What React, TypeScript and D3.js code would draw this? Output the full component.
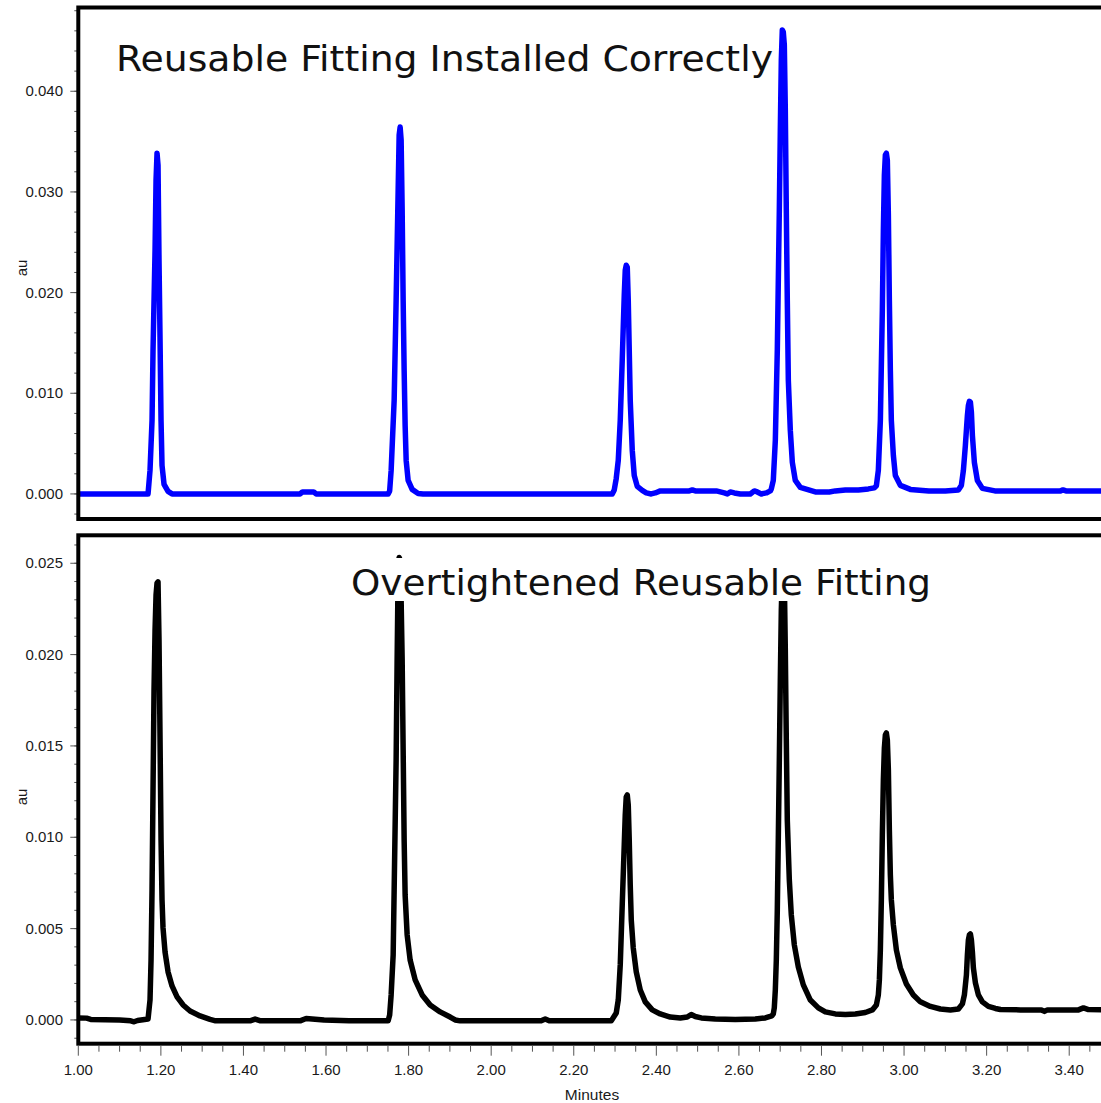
import React from "react";
import * as d3 from "d3";

// ---- Data (time in minutes, absorbance in au) ----
const topTrace: [number, number][] = [
  [1.0, 0], [1.1689, 0], [1.1737, 0.00234], [1.1786, 0.00731], [1.181, 0.01427], [1.1859, 0.02421],
  [1.1883, 0.03117], [1.1907, 0.03385], [1.1931, 0.03266], [1.1955, 0.02321], [1.198, 0.01526],
  [1.2004, 0.00731], [1.2028, 0.00283], [1.2077, 0.00095], [1.2174, 0.00025], [1.227, 0],
  [1.5372, 0], [1.543, 0.0002], [1.57, 0.0002], [1.576, 0],
  [1.7504, 0], [1.7541, 0.0003], [1.7577, 0.00234], [1.765, 0.00929], [1.7698, 0.01924], [1.7747, 0.03018],
  [1.7771, 0.03564], [1.7795, 0.03644], [1.7819, 0.03515], [1.7844, 0.02819], [1.7868, 0.01924],
  [1.7892, 0.01228], [1.7916, 0.00681], [1.7941, 0.00333], [1.7989, 0.00134], [1.8086, 0.00045],
  [1.8231, 0.00005], [1.835, 0],
  [2.2932, 0], [2.2981, 0.0004], [2.3029, 0.00154], [2.3078, 0.00333], [2.3126, 0.00731], [2.3174, 0.01327],
  [2.3223, 0.01974], [2.3247, 0.02222], [2.3271, 0.02272], [2.3296, 0.02252], [2.332, 0.01924],
  [2.3344, 0.01427], [2.3368, 0.00929], [2.3417, 0.00432], [2.3465, 0.00184], [2.3538, 0.00075],
  [2.3659, 0.00035], [2.3756, 0.0001], [2.3877, 0], [2.3974, 0.0001], [2.4095, 0.0003], [2.4216, 0.0003],
  [2.4604, 0.0003], [2.4798, 0.0003], [2.4871, 0.0004], [2.4943, 0.0003], [2.5452, 0.0003], [2.5646, 0.0001],
  [2.5719, 0], [2.5791, 0.0002], [2.5888, 0.0001], [2.6034, 0], [2.6276, 0], [2.6373, 0.0003],
  [2.6445, 0.0002], [2.6542, 0], [2.6664, 0.0001], [2.676, 0.0003], [2.6785, 0.0005],
  [2.6833, 0.00134], [2.6882, 0.00532], [2.693, 0.01427], [2.6979, 0.02819], [2.7003, 0.03614],
  [2.7027, 0.0431], [2.7051, 0.04608], [2.7075, 0.04588], [2.71, 0.04459], [2.7124, 0.03813],
  [2.7148, 0.02819], [2.7172, 0.01924], [2.7197, 0.01129], [2.7245, 0.00631], [2.7294, 0.00313],
  [2.7366, 0.00134], [2.7487, 0.00065], [2.773, 0.00035], [2.7851, 0.0002], [2.819, 0.0002],
  [2.8335, 0.0003], [2.8578, 0.0004], [2.8893, 0.0004], [2.9135, 0.0005], [2.928, 0.0006],
  [2.9329, 0.0008], [2.9377, 0.00234], [2.9426, 0.00731], [2.9474, 0.01825], [2.9499, 0.0262],
  [2.9523, 0.03167], [2.9547, 0.03366], [2.9571, 0.03385], [2.9595, 0.03316], [2.962, 0.02769],
  [2.9644, 0.01924], [2.9668, 0.01228], [2.9692, 0.00731], [2.9741, 0.00383], [2.9789, 0.00184],
  [2.991, 0.00085], [3.0153, 0.00045], [3.06, 0.0003], [3.1, 0.0003], [3.1316, 0.0004],
  [3.1388, 0.00085], [3.1437, 0.00234], [3.1485, 0.00482], [3.1534, 0.0078], [3.1558, 0.0088],
  [3.1582, 0.0092], [3.1607, 0.0091], [3.1631, 0.0081], [3.1655, 0.00582], [3.1703, 0.00313],
  [3.1776, 0.00134], [3.1897, 0.00055], [3.22, 0.0003], [3.3, 0.0003], [3.379, 0.0003],
  [3.385, 0.0004], [3.392, 0.0003], [3.5, 0.0003],
];

const bottomTrace: [number, number][] = [
  [1.0, 0.00011], [1.02, 0.0001], [1.03, 0.00003], [1.1, 0], [1.127, -0.00005], [1.135, -0.0001],
  [1.1435, -0.00003], [1.1689, 0.00005], [1.1737, 0.00109], [1.1762, 0.00328], [1.1786, 0.00712],
  [1.181, 0.01259], [1.1834, 0.01806], [1.1859, 0.02135], [1.1883, 0.02326], [1.1907, 0.02392],
  [1.1931, 0.02398], [1.1955, 0.0208], [1.198, 0.01533], [1.2004, 0.00985], [1.2028, 0.00657],
  [1.2052, 0.00504], [1.2101, 0.00372], [1.2174, 0.00263], [1.227, 0.00186], [1.2392, 0.00126],
  [1.2537, 0.00082], [1.2707, 0.00049], [1.2949, 0.00022], [1.3191, 0.00003], [1.3325, -0.00005],
  [1.416, -0.00005], [1.4282, 0.00005], [1.4415, -0.00005], [1.5372, -0.00005], [1.5517, 0.00008],
  [1.5663, 0.00005], [1.5954, 0], [1.6559, -0.00005], [1.7504, -0.00005],
  [1.7541, 0.00027], [1.7577, 0.00137], [1.7626, 0.00356], [1.765, 0.00712], [1.7698, 0.01423],
  [1.7722, 0.01971], [1.7747, 0.02463], [1.7771, 0.02532], [1.7795, 0.02518], [1.7819, 0.02299],
  [1.7844, 0.01971], [1.7868, 0.01478], [1.7892, 0.00985], [1.7916, 0.00684], [1.7965, 0.00465],
  [1.8037, 0.00328], [1.8159, 0.00219], [1.8328, 0.00137], [1.8522, 0.00082], [1.8764, 0.00044],
  [1.9007, 0.00016], [1.9128, 0], [1.9249, -0.00005], [2.1212, -0.00005], [2.1309, 0.00005],
  [2.1406, -0.00005], [2.2908, -0.00005],
  [2.3029, 0.00038], [2.3078, 0.00109], [2.3126, 0.00301], [2.3174, 0.0063], [2.3223, 0.00958],
  [2.3247, 0.01122], [2.3271, 0.01221], [2.3296, 0.01232], [2.332, 0.01177], [2.3344, 0.00985],
  [2.3368, 0.00739], [2.3393, 0.00547], [2.3441, 0.00394], [2.3514, 0.00263], [2.3611, 0.00164],
  [2.3732, 0.00099], [2.3901, 0.00055], [2.4095, 0.00033], [2.4337, 0.00016], [2.458, 0.00011],
  [2.4749, 0.00016], [2.4846, 0.0003], [2.4943, 0.00019], [2.5089, 0.00011], [2.5428, 0.00005],
  [2.5912, 0.00003], [2.6397, 0.00005], [2.6639, 0.00011], [2.6797, 0.00022],
  [2.6833, 0.00033], [2.6857, 0.00066], [2.6882, 0.00164], [2.6906, 0.00328], [2.693, 0.00602],
  [2.6954, 0.00985], [2.6979, 0.01423], [2.7003, 0.01861], [2.7027, 0.02244], [2.7051, 0.02436],
  [2.7075, 0.02485], [2.71, 0.02409], [2.7124, 0.02025], [2.7148, 0.01533], [2.7172, 0.01095],
  [2.7221, 0.00766], [2.7269, 0.00575], [2.7342, 0.00411], [2.7439, 0.0029], [2.756, 0.00192],
  [2.773, 0.00109], [2.7924, 0.00066], [2.8093, 0.00044], [2.8335, 0.00033], [2.8578, 0.0003],
  [2.882, 0.00033], [2.9062, 0.00041], [2.9232, 0.00055], [2.9329, 0.00082],
  [2.9377, 0.00137], [2.9402, 0.00219], [2.9426, 0.00383], [2.945, 0.00657], [2.9474, 0.01013],
  [2.9499, 0.01314], [2.9523, 0.01489], [2.9547, 0.0156], [2.9571, 0.01571], [2.9595, 0.01533],
  [2.962, 0.01369], [2.9644, 0.0104], [2.9668, 0.00794], [2.9692, 0.00657], [2.9741, 0.0052],
  [2.9814, 0.00383], [2.991, 0.00285], [3.0056, 0.00197], [3.0225, 0.00137], [3.0395, 0.00099],
  [3.0637, 0.00074], [3.088, 0.0006], [3.1122, 0.00055], [3.1316, 0.0006], [3.1413, 0.00088],
  [3.1461, 0.00137], [3.151, 0.00246], [3.1534, 0.00356], [3.1558, 0.00438], [3.1582, 0.00465],
  [3.1607, 0.00471], [3.1631, 0.00438], [3.1655, 0.00372], [3.1679, 0.00285], [3.1728, 0.00203],
  [3.18, 0.00137], [3.1897, 0.00099], [3.2043, 0.00074], [3.2212, 0.00063], [3.2334, 0.00057],
  [3.2818, 0.00055], [3.3327, 0.00055], [3.34, 0.00047], [3.3472, 0.00055], [3.4224, 0.00055],
  [3.4345, 0.00066], [3.4466, 0.00057], [3.5, 0.00055],
];

const xMajorTicks = [1.0, 1.2, 1.4, 1.6, 1.8, 2.0, 2.2, 2.4, 2.6, 2.8, 3.0, 3.2, 3.4];
const topMajorTicks = [0.0, 0.01, 0.02, 0.03, 0.04];
const bottomMajorTicks = [0.0, 0.005, 0.01, 0.015, 0.02, 0.025];
const titles = ["Reusable Fitting Installed Correctly", "Overtightened Reusable Fitting"];
const yLabel = "au";
const xLabel = "Minutes";

// ---- Layout ----
const W = 1101;
const H = 1103;
const LEFT = 78.3;
const RIGHT = 1110.5;
const TOP_PANEL = { y0: 7.5, y1: 519, domain: [-0.00249, 0.04832] as [number, number] };
const BOT_PANEL = { y0: 535.3, y1: 1043.7, domain: [-0.0013, 0.02653] as [number, number] };
const FONT = "'Liberation Sans', Arial, Helvetica, sans-serif";
const TITLE_FONT = "'DejaVu Sans', Verdana, sans-serif";

export default function App() {
  const x = d3.scaleLinear().domain([1.0, 3.5]).range([LEFT, RIGHT]);
  const yTop = d3.scaleLinear().domain(TOP_PANEL.domain).range([TOP_PANEL.y1, TOP_PANEL.y0]);
  const yBot = d3.scaleLinear().domain(BOT_PANEL.domain).range([BOT_PANEL.y1, BOT_PANEL.y0]);

  const lineTop = d3.line<[number, number]>().x((d) => x(d[0])).y((d) => yTop(d[1]));
  const lineBot = d3.line<[number, number]>().x((d) => x(d[0])).y((d) => yBot(d[1]));

  const fmtY = d3.format(".3f");
  const fmtX = d3.format(".2f");

  const topMinor = d3.range(-1, 25).map((i) => i * 0.002);
  const botMinor = d3.range(-1, 27).map((i) => i * 0.001);
  const xMinor = d3.range(0, 51).map((i) => 1 + i * 0.05);

  const tickColor = "#555";

  const renderYAxis = (
    scale: d3.ScaleLinear<number, number>,
    minor: number[],
    major: number[],
    y0: number,
    y1: number
  ) => (
    <g>
      {minor.map((v, i) => {
        const yy = scale(v);
        if (yy < y0 - 0.5 || yy > y1 + 0.5) return null;
        return <line key={"m" + i} x1={LEFT - 4} x2={LEFT} y1={yy} y2={yy} stroke={tickColor} strokeWidth={1} />;
      })}
      {major.map((v, i) => (
        <g key={"M" + i}>
          <line x1={LEFT - 8} x2={LEFT} y1={scale(v)} y2={scale(v)} stroke={tickColor} strokeWidth={1} />
          <text x={63} y={scale(v)} dy="0.33em" textAnchor="end" fontFamily={FONT} fontSize={15} fill="#1a1a1a">
            {fmtY(v)}
          </text>
        </g>
      ))}
    </g>
  );

  return (
    <svg
      width={W}
      height={H}
      viewBox={`0 0 ${W} ${H}`}
      style={{ position: "absolute", left: 0, top: 0, background: "#fff" }}
    >
      <defs>
        <clipPath id="clipTop">
          <rect x={LEFT} y={TOP_PANEL.y0} width={RIGHT - LEFT} height={TOP_PANEL.y1 - TOP_PANEL.y0} />
        </clipPath>
        <clipPath id="clipBot">
          <rect x={LEFT} y={BOT_PANEL.y0} width={RIGHT - LEFT} height={BOT_PANEL.y1 - BOT_PANEL.y0} />
        </clipPath>
      </defs>
      <rect x={0} y={0} width={W} height={H} fill="#fff" />

      {/* Top panel */}
      <g clipPath="url(#clipTop)">
        <path d={lineTop(topTrace) || ""} fill="none" stroke="#0000ff" strokeWidth={5.5} strokeLinejoin="round" strokeLinecap="round" />
        <text x={116} y={71} fontFamily={TITLE_FONT} fontSize={36} fill="#111" textLength={657} lengthAdjust="spacingAndGlyphs">
          {titles[0]}
        </text>
      </g>
      {renderYAxis(yTop, topMinor, topMajorTicks, TOP_PANEL.y0, TOP_PANEL.y1)}
      <rect x={LEFT} y={TOP_PANEL.y0} width={RIGHT - LEFT} height={TOP_PANEL.y1 - TOP_PANEL.y0} fill="none" stroke="#000" strokeWidth={4} />
      <text transform={`translate(27,268) rotate(-90)`} textAnchor="middle" fontFamily={FONT} fontSize={15} fill="#1a1a1a">
        {yLabel}
      </text>

      {/* Bottom panel */}
      <g clipPath="url(#clipBot)">
        <path d={lineBot(bottomTrace) || ""} fill="none" stroke="#000" strokeWidth={5.5} strokeLinejoin="round" strokeLinecap="round" />
        <rect x={345} y={558} width={592} height={43} fill="#fff" />
        <text x={351} y={595} fontFamily={TITLE_FONT} fontSize={36} fill="#111" textLength={580} lengthAdjust="spacingAndGlyphs">
          {titles[1]}
        </text>
      </g>
      {renderYAxis(yBot, botMinor, bottomMajorTicks, BOT_PANEL.y0, BOT_PANEL.y1)}
      <rect x={LEFT} y={BOT_PANEL.y0} width={RIGHT - LEFT} height={BOT_PANEL.y1 - BOT_PANEL.y0} fill="none" stroke="#000" strokeWidth={4} />
      <text transform={`translate(27,797) rotate(-90)`} textAnchor="middle" fontFamily={FONT} fontSize={15} fill="#1a1a1a">
        {yLabel}
      </text>

      {/* X axis */}
      <g>
        {xMinor.map((v, i) => (
          <line key={"xm" + i} x1={x(v)} x2={x(v)} y1={BOT_PANEL.y1 + 2} y2={BOT_PANEL.y1 + (i % 4 === 0 ? 12 : 8)} stroke={tickColor} strokeWidth={1} />
        ))}
        {xMajorTicks.map((v, i) => (
          <text key={"xl" + i} x={x(v)} y={1075} textAnchor="middle" fontFamily={FONT} fontSize={15} fill="#1a1a1a">
            {fmtX(v)}
          </text>
        ))}
        <text x={592} y={1100} textAnchor="middle" fontFamily={FONT} fontSize={15.5} fill="#1a1a1a">
          {xLabel}
        </text>
      </g>
    </svg>
  );
}
